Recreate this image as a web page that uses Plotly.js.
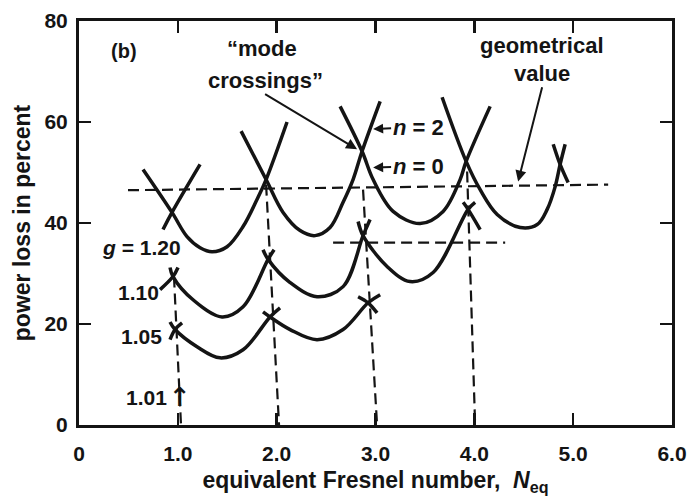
<!DOCTYPE html>
<html>
<head>
<meta charset="utf-8">
<script src="https://cdn.plot.ly/plotly-3.0.1.min.js"></script>
<style>html,body{margin:0;padding:0;background:#fff;}#chart{width:692px;height:499px;}</style>
</head>
<body>
<div id="chart"></div>
<script>
// ---- data ----
// g = 1.20 loss curves: each sub-array is one U-shaped arc (x = N_eq, y = loss %)
const g120_x = [
  [0.850, 0.941, 1.225],
  [0.648, 0.941, 1.093, 1.225, 1.346, 1.498, 1.660, 1.802, 1.893, 2.105],
  [1.640, 1.893, 2.065, 2.237, 2.389, 2.540, 2.672, 2.773, 2.864, 3.047],
  [2.642, 2.864, 2.976, 3.178, 3.451, 3.684, 3.856, 3.917, 4.160],
  [3.674, 3.917, 4.059, 4.231, 4.464, 4.636, 4.737, 4.818, 4.868, 4.919],
  [4.798, 4.868, 4.949]
];
const g120_y = [
  [38.7, 42.1, 51.6],
  [50.6, 42.1, 37.3, 35.1, 34.3, 35.3, 39.3, 44.7, 48.6, 60.0],
  [58.2, 48.6, 42.1, 38.5, 37.5, 39.1, 44.1, 48.6, 54.2, 64.1],
  [63.1, 54.2, 48.6, 42.3, 39.9, 42.3, 48.6, 52.2, 63.1],
  [64.9, 52.2, 46.6, 41.7, 39.1, 39.7, 42.7, 47.2, 51.6, 55.6],
  [55.6, 51.6, 48.0]
];
// g = 1.10
const g110_x = [
  [0.820, 0.951, 1.002],
  [0.921, 0.951, 1.154, 1.447, 1.660, 1.913, 1.974],
  [1.862, 1.913, 2.136, 2.409, 2.672, 2.874, 2.945],
  [2.824, 2.874, 3.117, 3.350, 3.583, 3.937, 4.008],
  [3.887, 3.937, 4.059]
];
const g110_y = [
  [26.8, 29.4, 31.2],
  [31.2, 29.4, 24.8, 21.4, 23.4, 32.8, 34.7],
  [34.7, 32.8, 28.2, 25.4, 27.4, 37.5, 40.7],
  [40.3, 37.5, 31.4, 28.4, 30.2, 42.7, 44.1],
  [44.1, 42.7, 38.7]
];
// g = 1.05
const g105_x = [
  [0.921, 0.972, 1.043],
  [0.921, 0.972, 1.194, 1.427, 1.660, 1.933, 2.034],
  [1.862, 1.933, 2.136, 2.409, 2.672, 2.925, 3.047],
  [2.824, 2.925, 3.016]
];
const g105_y = [
  [16.9, 18.9, 20.2],
  [20.4, 18.9, 15.5, 13.3, 14.9, 21.4, 23.2],
  [22.4, 21.4, 18.9, 16.9, 18.9, 24.2, 25.8],
  [25.4, 24.2, 22.2]
];
// dashed reference lines
const geomLine_x = [0.496, 5.354];
const geomLine_y = [46.5, 47.6];
const level2_x = [2.571, 4.312];
const level2_y = [36.1, 36.1];
const drop_x = [[0.961, 1.032], [1.893, 2.024], [2.874, 3.016], [3.927, 4.008]];
const drop_y = [[29.4, 0], [47.6, 0], [46.6, 0], [50.2, 0]];
// axes
const xTickVals = [0, 1, 2, 3, 4, 5, 6];
const xTickText = ['0', '1.0', '2.0', '3.0', '4.0', '5.0', '6.0'];
const yTickVals = [0, 20, 40, 60, 80];
const yTickText = ['0', '20', '40', '60', '80'];

// ---- build traces ----
const INK = '#141414';
const traces = [];
function addArcs(xs, ys) {
  xs.forEach((xa, i) => traces.push({
    x: xa, y: ys[i], mode: 'lines', type: 'scatter', hoverinfo: 'skip',
    line: {color: INK, width: 3.5, shape: 'spline', smoothing: 1}
  }));
}
addArcs(g120_x, g120_y);
addArcs(g110_x, g110_y);
addArcs(g105_x, g105_y);
function addDash(xa, ya) {
  traces.push({x: xa, y: ya, mode: 'lines', type: 'scatter', hoverinfo: 'skip',
    line: {color: INK, width: 2.2, dash: '11px,6px'}});
}
addDash(geomLine_x, geomLine_y);
addDash(level2_x, level2_y);
drop_x.forEach((xa, i) => addDash(xa, drop_y[i]));

const FONT = 'Liberation Sans, Arial, Helvetica, sans-serif';
const tf = (s) => ({family: FONT, size: s, color: INK, weight: 'bold'});

const annotations = [
  {x: 0.455, y: 74.1, text: '(b)', showarrow: false, font: tf(20)},
  {x: 1.852, y: 74.6, text: '\u201cmode', showarrow: false, font: tf(22), borderpad: 0},
  // second line carries the arrow to the crossing (tail sits under the text)
  {x: 2.814, y: 54.6, ax: 1.883, ay: 65.5, axref: 'x', ayref: 'y',
   xanchor: 'center', yanchor: 'bottom', borderpad: 0,
   text: 'crossings\u201d', font: tf(22),
   showarrow: true, arrowhead: 2, arrowsize: 1.1, arrowwidth: 2, arrowcolor: INK},
  {x: 4.686, y: 75.2, text: 'geometrical', showarrow: false, font: tf(22), borderpad: 0},
  {x: 4.443, y: 48.2, ax: 4.686, ay: 66.9, axref: 'x', ayref: 'y',
   xanchor: 'center', yanchor: 'bottom', borderpad: 0,
   text: 'value', font: tf(22),
   showarrow: true, arrowhead: 2, arrowsize: 1.1, arrowwidth: 2, arrowcolor: INK},
  {x: 2.976, y: 58.6, ax: 3.431, ay: 59.0, axref: 'x', ayref: 'y', text: '<i>n</i> = 2',
   showarrow: true, arrowhead: 2, arrowsize: 1, arrowwidth: 2, arrowcolor: INK, font: tf(22)},
  {x: 2.976, y: 51.0, ax: 3.431, ay: 51.2, axref: 'x', ayref: 'y', text: '<i>n</i> = 0',
   showarrow: true, arrowhead: 2, arrowsize: 1, arrowwidth: 2, arrowcolor: INK, font: tf(22)},
  {x: 0.628, y: 35.1, text: '<i>g</i> = 1.20', showarrow: false, font: tf(21)},
  {x: 0.597, y: 26.2, text: '1.10', showarrow: false, font: tf(21)},
  {x: 0.628, y: 17.5, text: '1.05', showarrow: false, font: tf(21)},
  {x: 0.678, y: 5.4, text: '1.01', showarrow: false, font: tf(21)},
  {x: 1.022, y: 5.6, text: '\u2191', showarrow: false,
   font: {family: 'DejaVu Sans, sans-serif', size: 26, color: INK, weight: 'bold'}}
];

const axisCommon = {
  showline: true, linewidth: 3, linecolor: INK, mirror: 'ticks',
  ticks: 'inside', ticklen: 12, tickwidth: 2.5, tickcolor: INK,
  showgrid: false, zeroline: false, tickfont: tf(21), fixedrange: true
};

const layout = {
  width: 692, height: 499,
  margin: {l: 79, r: 20, t: 21, b: 74},
  paper_bgcolor: '#fff', plot_bgcolor: '#fff',
  showlegend: false,
  font: {family: FONT, color: INK},
  xaxis: Object.assign({}, axisCommon, {
    range: [0, 6], tickmode: 'array', tickvals: xTickVals, ticktext: xTickText,
    ticklabelstandoff: 8,
    title: {text: 'equivalent Fresnel number,  <i>N</i><sub>eq</sub>', font: tf(23), standoff: 8}
  }),
  yaxis: Object.assign({}, axisCommon, {
    range: [0, 80], tickmode: 'array', tickvals: yTickVals, ticktext: yTickText,
    ticklabelstandoff: 4,
    title: {text: 'power loss in percent', font: tf(23), standoff: 8}
  }),
  annotations: annotations
};

Plotly.newPlot('chart', traces, layout, {staticPlot: true, displayModeBar: false});
</script>
</body>
</html>
